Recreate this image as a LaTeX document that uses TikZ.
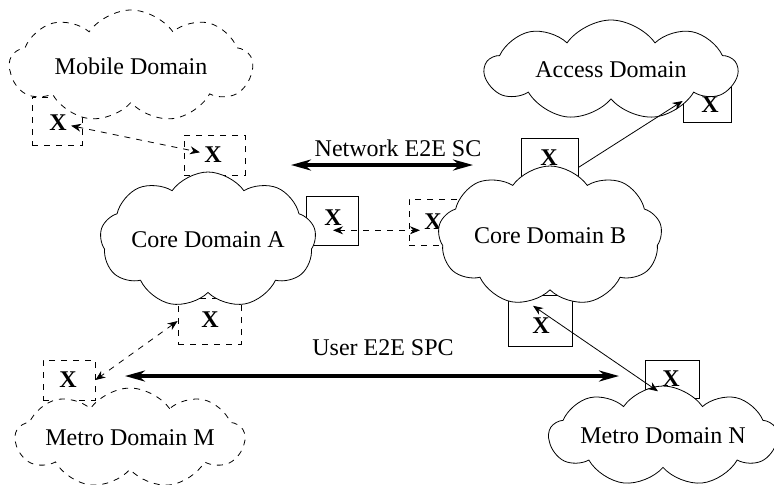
\documentclass[tikz,border=0pt]{standalone}
\usepackage{fontspec}
\setmainfont{Liberation Serif}
\usetikzlibrary{shapes,arrows,arrows.meta,positioning,calc}

\tikzset{
  netcloud/.style={cloud, cloud puffs=9, cloud puff arc=110, cloud ignores aspect, draw, fill=white, inner sep=0pt},
  xbox/.style={draw, inner sep=0pt},
  xmark/.style={inner sep=2pt, font=\fontsize{12}{14}\selectfont\bfseries},
  link/.style={{Stealth[length=5pt,width=4pt]}-{Stealth[length=5pt,width=4pt]}, thin},
  bigarrow/.style={line width=2pt, {Stealth[length=10pt,width=5.5pt]}-{Stealth[length=10pt,width=5.5pt]}},
}

\begin{document}
\begin{tikzpicture}[x=0.5pt,y=-0.5pt,font=\fontsize{12}{14}\selectfont]
\useasboundingbox (0,0) rectangle (774,484);

% boxes
\node[xbox, dashed, minimum width=25pt, minimum height=24pt] (b1) at (57,121) {};
\node[xbox, dashed, minimum width=30.5pt, minimum height=20pt] (b2) at (214.5,155) {};
\node[xbox, minimum width=26pt, minimum height=24.5pt] (b3) at (332,220.5) {};
\node[xbox, dashed, minimum width=24.5pt, minimum height=23pt] (b4) at (433.5,222) {};
\node[xbox, minimum width=24pt, minimum height=21pt] (b5) at (707,101) {};
\node[xbox, minimum width=28.5pt, minimum height=19.5pt] (b6) at (549.5,157.5) {};
\node[xbox, dashed, minimum width=31.5pt, minimum height=23pt] (b7) at (209.5,321) {};
\node[xbox, dashed, minimum width=26pt, minimum height=20pt] (b8) at (69,380) {};
\node[xbox, minimum width=32pt, minimum height=25.5pt] (b9) at (540,320.5) {};
\node[xbox, minimum width=27pt, minimum height=19pt] (b10) at (672,379) {};

\node[xmark] (x1) at (58,123) {X};
\node[xmark] (x2) at (213,155) {X};
\node[xmark] (x3) at (333,218) {X};
\node[xmark] (x4) at (433,222) {X};
\node[xmark] (x5) at (710,105) {X};
\node[xmark] (x6) at (549,158) {X};
\node[xmark] (x7) at (210,320) {X};
\node[xmark] (x8) at (68,380) {X};
\node[xmark] (x9) at (541,326) {X};
\node[xmark] (x10) at (671,379) {X};

% domains
\node[netcloud, dashed, minimum width=121.5pt, minimum height=56pt] (mobile) at (131,66) {Mobile Domain};
\node[netcloud, minimum width=126pt, minimum height=50pt] (access) at (611,70) {Access Domain};
\node[netcloud, minimum width=108pt, minimum height=68pt] (corea) at (208,240) {Core Domain A};
\node[netcloud, minimum width=112pt, minimum height=70pt] (coreb) at (550,236) {Core Domain B};
\node[netcloud, dashed, minimum width=107pt, minimum height=50pt] (metrom) at (130,438) {Metro Domain M};
\node[netcloud, minimum width=114pt, minimum height=50pt] (metron) at (663,436) {Metro Domain N};

% links
\draw[link, dashed] (x1) -- (x2);
\draw[link, dashed] (x3.south) -- (x3.south -| x4.west);
\draw[-{Stealth[length=5pt,width=4pt]}, thin] ($(b6.south east)!0.25!(b6.north east)$) -- (b5.west);
\draw[link] ([shift={(-8,-8)}]x9.north) -- (x10.south west);
\draw[link, dashed] (b7.west) -- (b8.east);

\coordinate (nl) at (291,165);
\coordinate (nr) at (473,165);
\draw[bigarrow] (nl) -- (nr);
\node (nsc) at (398,148) {Network E2E SC};

\coordinate (ul) at (125,376);
\coordinate (ur) at (619,376);
\draw[bigarrow] (ul) -- (ur);
\node (uspc) at (383,348) {User E2E SPC};
\end{tikzpicture}
\end{document}
